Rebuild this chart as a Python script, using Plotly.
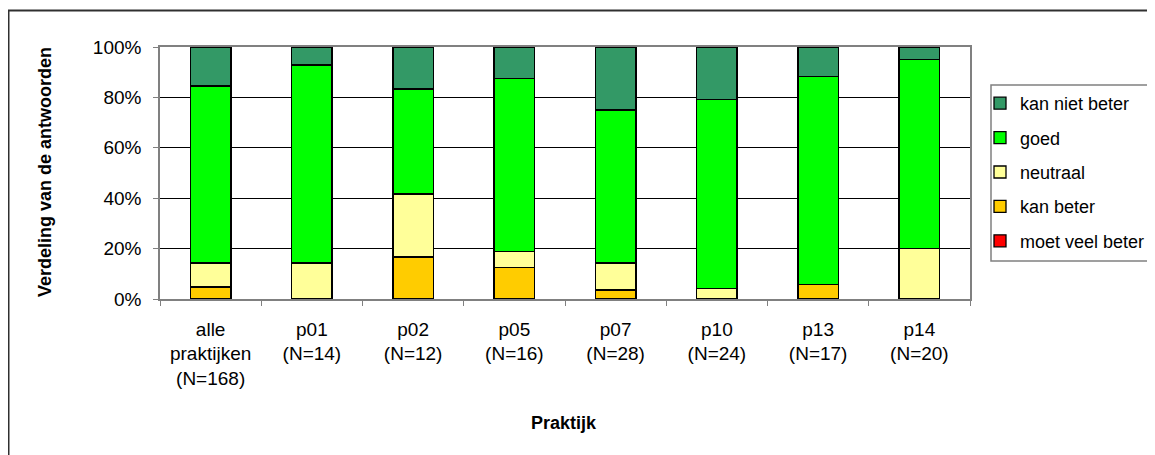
import plotly.graph_objects as go

# practices and number of respondents
categories = ["alle<br>praktijken<br>(N=168)", "p01<br>(N=14)", "p02<br>(N=12)", "p05<br>(N=16)",
              "p07<br>(N=28)", "p10<br>(N=24)", "p13<br>(N=17)", "p14<br>(N=20)"]

# answer counts per practice (stacked bottom -> top)
moet_veel_beter = [0, 0, 0, 0, 0, 0, 0, 0]
kan_beter = [8, 0, 2, 2, 1, 0, 1, 0]
neutraal = [16, 2, 3, 1, 3, 1, 0, 4]
goed = [118, 11, 5, 11, 17, 18, 14, 15]
kan_niet_beter = [26, 1, 2, 2, 7, 5, 2, 1]

series = [
    ("moet veel beter", moet_veel_beter, "#FF0000"),
    ("kan beter", kan_beter, "#FFCC00"),
    ("neutraal", neutraal, "#FFFF99"),
    ("goed", goed, "#00FF00"),
    ("kan niet beter", kan_niet_beter, "#339966"),
]

# page is 1155x455, the figure div sits 8px in from the body margin
OFF = 8
W, H = 1155 - OFF, 455 - OFF
L, R, T, B = 160, 970, 47, 299  # plot area in page pixels


def px(x):
    return (x - L) / (R - L)


def py(y):
    return (B - y) / (B - T)


FONT = "Liberation Sans, Arial, sans-serif"

fig = go.Figure()
for i, (name, vals, color) in enumerate(series):
    fig.add_trace(go.Bar(
        x=categories, y=vals, name=name,
        marker=dict(color=color, line=dict(color="black", width=1.3)),
        width=0.4, legendgroup=str(i), legendrank=100 - i,
    ))

fig.update_layout(
    width=W, height=H,
    barmode="stack", barnorm="percent",
    margin=dict(l=L - OFF, r=1155 - R, t=T - OFF, b=455 - B, autoexpand=False),
    paper_bgcolor="white", plot_bgcolor="white",
    font=dict(family=FONT, size=19, color="black"),
    showlegend=True,
    legend=dict(
        x=px(980), y=py(85), xanchor="left", yanchor="top",
        traceorder="grouped", tracegroupgap=8,
        font=dict(size=18), bgcolor="rgba(0,0,0,0)",
    ),
    xaxis=dict(
        tickson="boundaries", ticks="outside", ticklen=5, tickcolor="#808080",
        showline=True, linecolor="#808080", linewidth=1.5, mirror=True,
        showgrid=False, ticklabelstandoff=12,
    ),
    yaxis=dict(
        range=[0, 100], dtick=20, ticksuffix="%",
        ticks="outside", ticklen=5, tickcolor="#808080",
        showline=True, linecolor="#808080", linewidth=1.5, mirror=True,
        showgrid=True, gridcolor="black", gridwidth=1, ticklabelstandoff=8,
        zeroline=False,
    ),
    shapes=[
        # outer chart frame (right and bottom run off the page)
        dict(type="rect", xref="paper", yref="paper",
             x0=px(8.5), x1=px(1180), y0=py(480), y1=py(10.5),
             line=dict(color="#303030", width=2), layer="below"),
        # legend frame
        dict(type="rect", xref="paper", yref="paper",
             x0=px(991), x1=px(1180), y0=py(261), y1=py(85),
             line=dict(color="#808080", width=1.5)),
    ],
    annotations=[
        dict(text="<b>Verdeling van de antwoorden</b>", xref="paper", yref="paper",
             x=px(45), y=py(172), xanchor="center", yanchor="middle",
             textangle=-90, showarrow=False, font=dict(size=18)),
        dict(text="<b>Praktijk</b>", xref="paper", yref="paper",
             x=px(564), y=py(423), xanchor="center", yanchor="middle",
             showarrow=False, font=dict(size=18)),
    ],
)

fig.write_html("out.html")
